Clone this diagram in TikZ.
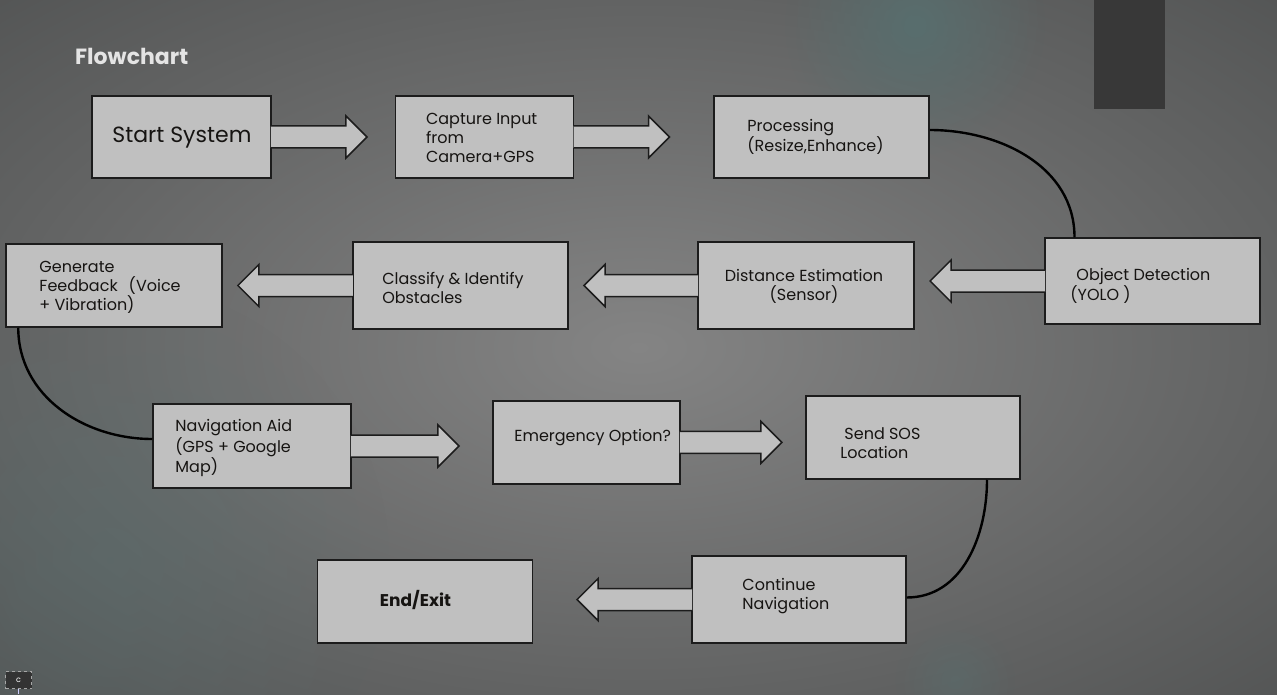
\documentclass[tikz,border=0pt]{standalone}
\usepackage{fontspec}
\setmainfont{Poppins}
\usetikzlibrary{fadings}

\definecolor{boxfill}{RGB}{192,192,192}
\definecolor{boxline}{RGB}{28,28,28}
\definecolor{ink}{RGB}{22,20,18}
\definecolor{bgin}{RGB}{132,132,132}
\definecolor{bgmid}{RGB}{98,99,99}
\definecolor{bgedge}{RGB}{72,74,74}
\definecolor{bgout}{RGB}{60,62,62}
\definecolor{glow}{RGB}{88,110,110}
\definecolor{panel}{RGB}{56,56,56}
\definecolor{titlecol}{RGB}{228,228,228}

\pgfdeclareradialshading{bgshade}{\pgfpoint{0bp}{0bp}}{color(0bp)=(bgin); color(25bp)=(bgmid); color(45bp)=(bgedge); color(71bp)=(bgout)}
\tikzfading[name=softglow, inner color=transparent!0, outer color=transparent!100]

\tikzset{
  box/.style={draw=boxline, fill=boxfill, line width=1.5pt, inner sep=0pt},
  lbl/.style={anchor=west, align=left, inner sep=0pt, text=ink, font=\fontsize{16}{19}\selectfont},
  blockarrow/.style={draw=boxline, fill=boxfill, line width=1.5pt},
  link/.style={draw=black, line width=2.4pt}
}

% fat arrows stuck to a box: box name, shaft length
\newcommand{\blockright}[2]{%
  \filldraw[blockarrow] ([xshift=-0.8pt,yshift=11pt]#1.east) -- ++(#2pt,0pt) -- ++(0pt,10pt)
    -- ++(21pt,-21pt) -- ++(-21pt,-21pt) -- ++(0pt,10pt) -- ([xshift=-0.8pt,yshift=-11pt]#1.east);}
\newcommand{\blockleft}[2]{%
  \filldraw[blockarrow] ([xshift=0.8pt,yshift=11pt]#1.west) -- ++(-#2pt,0pt) -- ++(0pt,10pt)
    -- ++(-21pt,-21pt) -- ++(21pt,-21pt) -- ++(0pt,10pt) -- ([xshift=0.8pt,yshift=-11pt]#1.west);}

\begin{document}
\begin{tikzpicture}[x=1pt,y=-1pt]
\useasboundingbox (0,0) rectangle (1277,695);
\shade[shading=bgshade] (0,0) rectangle (1277,695);
\fill[glow, path fading=softglow] (915,25) circle (130);
\fill[glow, opacity=0.45, path fading=softglow] (110,560) circle (280);
\fill[glow, opacity=0.5, path fading=softglow] (955,680) circle (60);
\fill[panel] (1094,0) rectangle (1165,109);

\node[anchor=base west, inner sep=0pt, text=titlecol, font=\fontsize{22}{26}\selectfont\bfseries] (title) at (75,65) {Flowchart};

% first row
\node[box, minimum width=179pt, minimum height=82pt] (start) at (181.5,137) {};
\node[box, minimum width=178pt, minimum height=82pt] (capture) at (484.6,137) {};
\node[box, minimum width=215pt, minimum height=82pt] (proc) at (821.5,137) {};
\blockright{start}{75}
\blockright{capture}{75}
\node[lbl, font=\fontsize{22}{26}\selectfont] (startT) at ([xshift=21pt,yshift=-1pt]start.west) {Start System};
\node[lbl] (captureT) at ([xshift=31pt,yshift=-1pt]capture.west) {Capture Input\\from\\Camera+GPS};
\node[lbl] (procT) at ([xshift=34pt]proc.west) {Processing\\(Resize,Enhance)};

% second row
\node[box, minimum width=215pt, minimum height=86pt] (objdet) at (1152.5,281) {};
\node[box, minimum width=216pt, minimum height=87pt] (dist) at (806,285.5) {};
\node[box, minimum width=215pt, minimum height=87pt] (classify) at (460.3,285.5) {};
\node[box, minimum width=216pt, minimum height=83pt] (gen) at (114,285.5) {};
\blockleft{objdet}{94}
\blockleft{dist}{93}
\blockleft{classify}{94}
\node[lbl, yshift=-5pt] (objdetT) at ([xshift=26pt]objdet.west) {\hspace*{6pt}Object Detection\\(YOLO )};
\node[lbl, anchor=center, align=center] (distT) at ([xshift=-2pt,yshift=-1pt]dist.center) {Distance Estimation\\(Sensor)};
\node[lbl] (classifyT) at ([xshift=30pt,yshift=-2pt]classify.west) {Classify \& Identify\\Obstacles};
\node[lbl] (genT) at ([xshift=34pt,yshift=-2pt]gen.west) {Generate\\Feedback\hspace{11pt}(Voice\\+ Vibration)};

% third row
\node[box, minimum width=198pt, minimum height=84pt] (nav) at (252,446) {};
\node[box, minimum width=187pt, minimum height=83pt] (emer) at (586.4,442.4) {};
\node[box, minimum width=214pt, minimum height=83pt] (sos) at (913,437.5) {};
\blockright{nav}{87}
\blockright{emer}{81}
\node[lbl] (navT) at ([xshift=23pt,yshift=-2pt]nav.west) {Navigation Aid\\(GPS + Google\\Map)};
\node[lbl] (emerT) at ([xshift=22pt,yshift=5pt]emer.west) {Emergency Option?};
\node[lbl] (sosT) at ([xshift=35pt,yshift=-6pt]sos.west) {\hspace*{4pt}Send SOS\\Location};

% last row
\node[box, minimum width=214pt, minimum height=87pt] (cont) at (799,599.5) {};
\node[box, minimum width=215pt, minimum height=83pt] (finish) at (425,601.5) {};
\blockleft{cont}{94}
\node[lbl] (contT) at ([xshift=51pt,yshift=3pt]cont.west) {Continue\\Navigation};
\node[lbl, font=\fontsize{17}{20}\selectfont\bfseries] (finishT) at ([xshift=63pt,yshift=1pt]finish.west) {End/Exit};

% curved links between rows
\draw[link] ([yshift=7pt]proc.east) to[out=0,in=90] ([xshift=-78pt]objdet.north);
\draw[link] ([xshift=13pt]gen.south west) to[out=-90,in=180] ([yshift=7pt]nav.west);
\draw[link] ([xshift=74pt]sos.south) to[out=-90,in=0] ([yshift=2pt]cont.east);

% corner marker
\node[draw=gray!70, dashed, fill=black!80, minimum width=26pt, minimum height=17pt, inner sep=0pt,
  text=white, font=\fontsize{8}{8}\selectfont] (mark) at (18.5,680) {c};
\coordinate (markend) at (18.5,694);
\draw[white!80!blue, line width=0.8pt] (mark.south) -- (markend);
\end{tikzpicture}
\end{document}
